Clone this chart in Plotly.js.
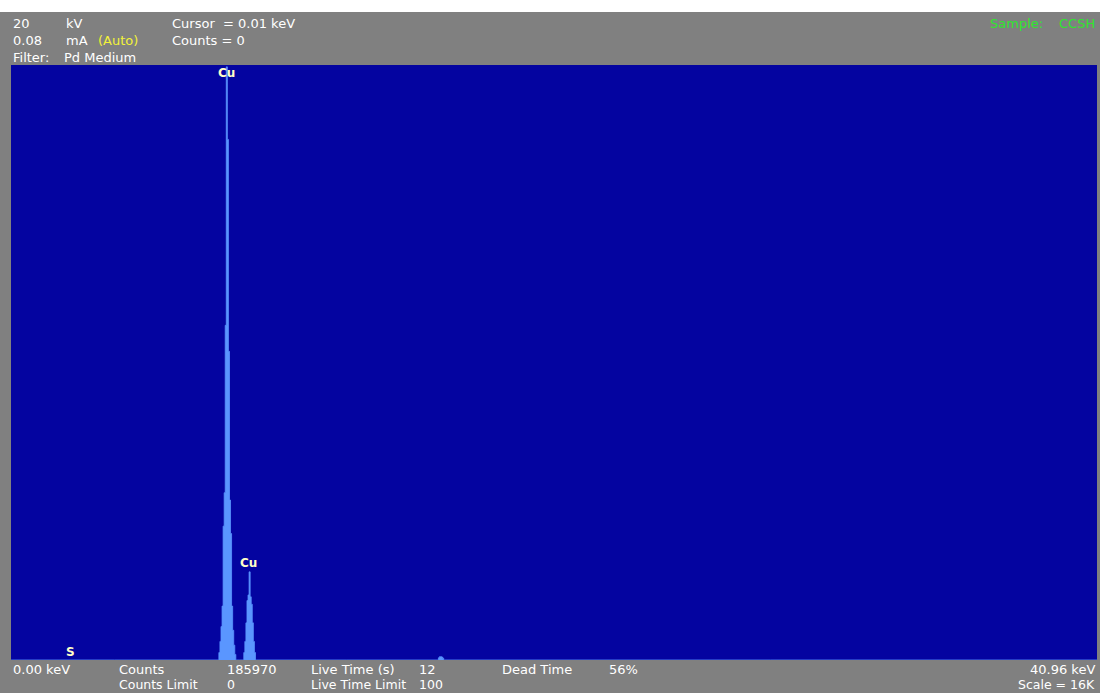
<!DOCTYPE html>
<html>
<head>
<meta charset="utf-8">
<script src="https://cdn.plot.ly/plotly-3.0.1.min.js"></script>
<style>
  html, body { margin: 0; padding: 0; background: #ffffff; }
  #chart { width: 1100px; height: 681px; margin-top: 12px; }
</style>
</head>
<body>
<div id="chart"></div>
<script>
// Spectrum channels (keV) and counts
const energyKeV = [0.00,
  7.82, 7.86, 7.90, 7.94, 7.98, 8.02, 8.06, 8.10, 8.14, 8.18, 8.22, 8.26, 8.30, 8.34, 8.38, 8.42, 8.46, 8.50,
  8.76, 8.80, 8.84, 8.88, 8.92, 8.96, 9.00, 9.04, 9.08, 9.12, 9.16, 9.20, 9.24,
  16.10, 16.14, 16.18, 16.22, 16.26, 16.30, 16.34,
  40.96];
const counts = [0,
  0, 200, 500, 900, 1450, 3600, 4500, 9000, 15950, 14000, 8300, 4300, 3400, 1450, 800, 400, 150, 0,
  0, 200, 500, 1000, 1600, 1750, 2370, 1700, 1500, 1000, 500, 200, 0,
  0, 60, 90, 90, 80, 50, 0,
  0];

// Peak identification labels
const peakLabels = ['S', 'Cu', 'Cu'];
const peakLabelEnergy = [2.26, 8.14, 8.95];
const peakLabelCounts = [215, 15785, 2608];

// Instrument status texts
const headerLeft = [
  ['20', 12, 23], ['kV', 65, 23], ['Cursor  = 0.01 keV', 171, 23],
  ['0.08', 12, 41], ['mA', 65, 41], ['Counts = 0', 171, 41],
  ['Filter:', 12, 57], ['Pd Medium', 63, 57]
];
const footerLeft = [
  ['0.00 keV', 12, 669], ['Counts', 118, 669], ['185970', 226, 669],
  ['Live Time (s)', 310, 669], ['12', 418, 669],
  ['Dead Time', 501, 669], ['56%', 608, 669],
  ['Counts Limit', 118, 684], ['0', 226, 684],
  ['Live Time Limit', 310, 684], ['100', 418, 684]
];
const footerRight = [['40.96 keV', 1096, 669], ['Scale = 16K', 1096, 684]];

// plot area in page pixels
const L = 11, R = 1097, T = 65, B = 660;
const px = X => (X - L) / (R - L);
const py = Y => (B - Y) / (B - T);

const FONT = 'DejaVu Sans, Verdana, sans-serif';
const white = '#ffffff';
const ann = [];
function addText(t, X, Y, color, anchor, size) {
  ann.push({
    xref: 'paper', yref: 'paper', x: px(X), y: py(Y),
    xanchor: anchor || 'left', yanchor: 'middle', text: t, showarrow: false,
    borderpad: 0,
    font: { family: FONT, size: size || 13, color: color || white }
  });
}
headerLeft.forEach(a => addText(a[0], a[1], a[2]));
addText('(Auto)', 97, 41, '#f2f23a');
addText('Sample:', 989, 23, '#2ee62e');
addText('CCSH', 1096, 23, '#2ee62e', 'right');
footerLeft.forEach(a => addText(a[0], a[1], a[2], white, 'left', a[2] > 680 ? 12.5 : 13));
footerRight.forEach(a => addText(a[0], a[1], a[2], white, 'right', a[2] > 680 ? 12.5 : 13));

for (let i = 0; i < peakLabels.length; i++) {
  ann.push({
    xref: 'x', yref: 'y', x: peakLabelEnergy[i], y: peakLabelCounts[i],
    xanchor: 'center', yanchor: 'middle', text: '<b>' + peakLabels[i] + '</b>', showarrow: false,
    font: { family: FONT, size: 12, color: '#ffffc8' }
  });
}

const trace = {
  type: 'scatter', mode: 'lines',
  x: energyKeV, y: counts,
  fill: 'tozeroy', fillcolor: '#5a96ff',
  line: { color: '#5a96ff', width: 0.8, shape: 'hvh' },
  hoverinfo: 'skip'
};

const layout = {
  width: 1100, height: 681,
  margin: { l: L, r: 1100 - R, t: T - 12, b: 693 - B, pad: 0 },
  paper_bgcolor: '#808080',
  plot_bgcolor: '#0404a0',
  showlegend: false,
  xaxis: { range: [0, 40.96], showgrid: false, zeroline: false, showticklabels: false, ticks: '', showline: false, fixedrange: true },
  yaxis: { range: [0, 16000], showgrid: false, zeroline: false, showticklabels: false, ticks: '', showline: false, fixedrange: true },
  annotations: ann
};

Plotly.newPlot('chart', [trace], layout, { displayModeBar: false, staticPlot: true });
</script>
</body>
</html>
